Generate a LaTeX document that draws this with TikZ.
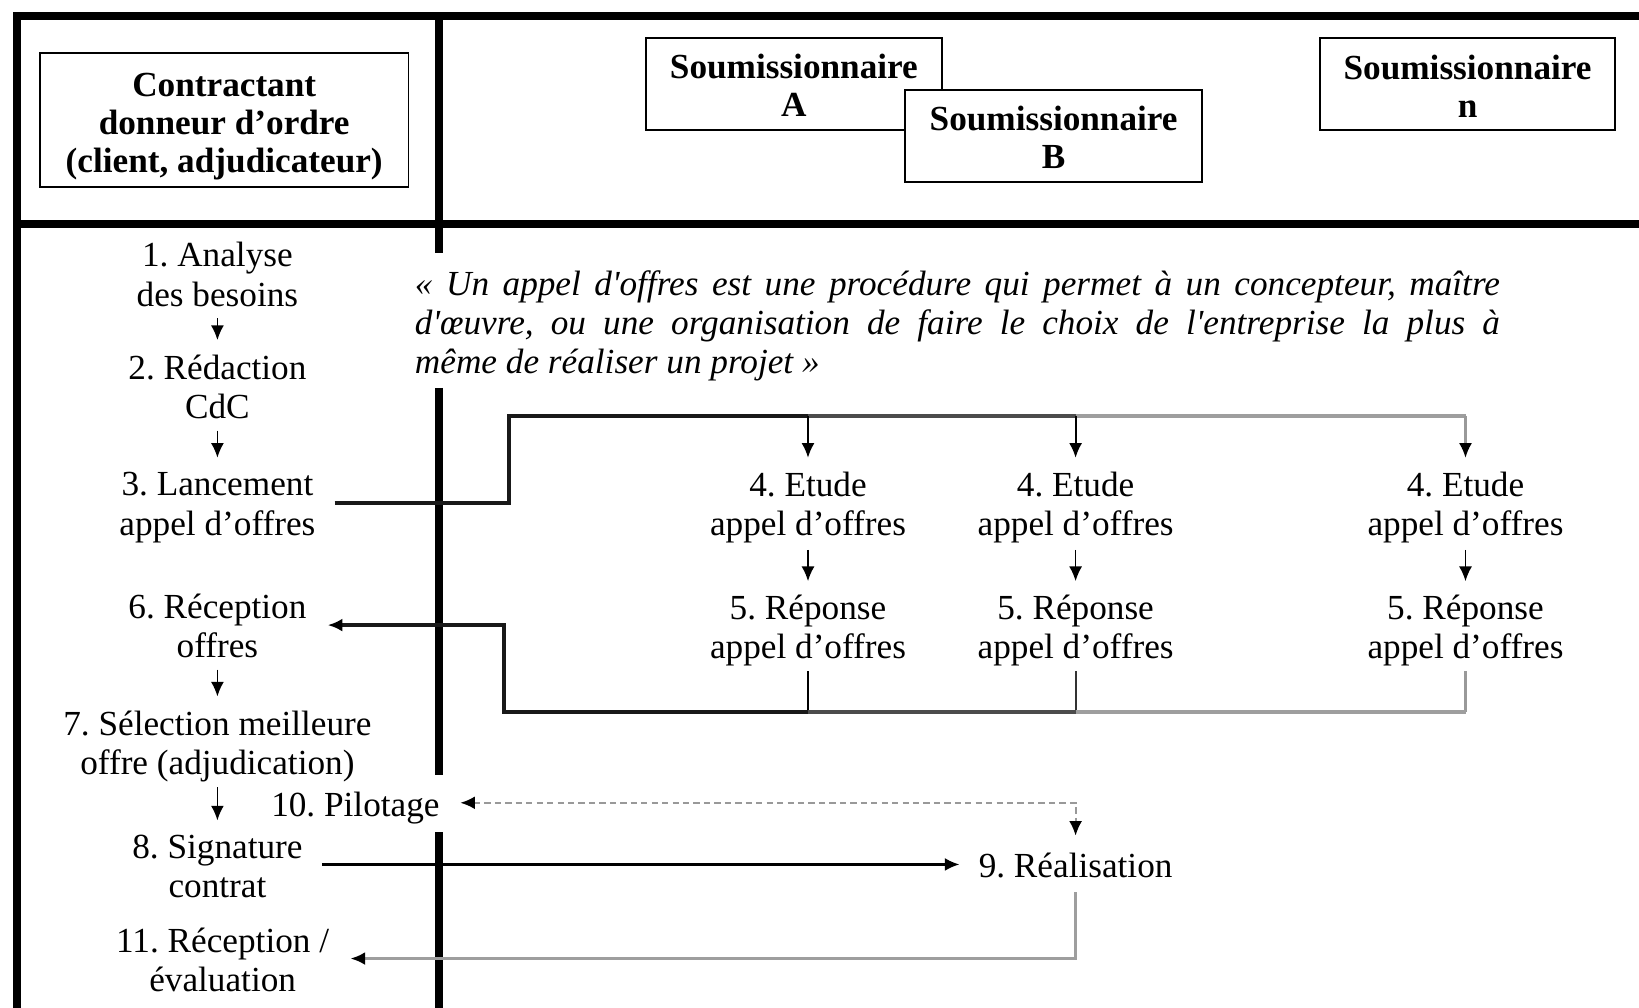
\documentclass[tikz,border=0pt]{standalone}
\usepackage{fontspec}
\setmainfont{Liberation Serif}
\usetikzlibrary{arrows.meta}
\frenchspacing
\tikzset{
  blk/.tip={Latex[length=7pt,width=6.2pt,color=black]},
  txt/.style={inner sep=0pt, align=center, font=\fontsize{16.85pt}{18.8pt}\selectfont\frenchspacing,
    execute at begin node=\strut, execute at end node=\strut},
  hdrbox/.style={draw, line width=0.9pt, fill=white, inner sep=0pt},
  hdrtxt/.style={inner sep=0pt, align=center, font=\fontsize{16.85pt}{18.3pt}\selectfont\bfseries},
  framel/.style={line width=4pt},
  divl/.style={line width=3.5pt},
  dk/.style={draw=black!90, line width=1.8pt},
  md/.style={draw=black!70, line width=1.8pt},
  lt/.style={draw=black!38, line width=1.8pt},
  dropd/.style={draw=black, line width=1pt, -blk, shorten >=6.5pt},
  dropl/.style={draw=black!40, line width=1pt, -blk, shorten >=6.5pt},
  sm/.style={draw=black, line width=0.8pt, -blk, shorten <=0pt, shorten >=6.8pt},
  dsh/.style={draw=black!40, line width=1pt, dash pattern=on 3pt off 2pt},
}
\begin{document}
\begin{tikzpicture}[x=0.5pt,y=-0.5pt]
\useasboundingbox (0,0) rectangle (1568,964);
% frame
\draw[framel] (16,964) -- (16,15) -- (1568,15);
\draw[framel] (16,214) -- (1568,214);
\draw[divl] (420,15) -- (420,242);
\draw[divl] (420,371) -- (420,741);
\draw[divl] (420,796) -- (420,964);
% header boxes
\node[hdrbox, minimum width=176.25pt, minimum height=64.25pt] (client) at (214.5,115) {};
\node[hdrtxt] (clientt) at (214.5,121) {Contractant\\donneur d’ordre\\(client, adjudicateur)};
\node[hdrbox, minimum width=141.5pt, minimum height=44.25pt] (sa) at (759.5,80.5) {};
\node[hdrtxt] (sat) at (759.5,81.5) {Soumissionnaire\\A};
\node[hdrbox, minimum width=142pt, minimum height=44pt] (sb) at (1008,130) {};
\node[hdrtxt] (sbt) at (1008,131.5) {Soumissionnaire\\B};
\node[hdrbox, minimum width=141pt, minimum height=44.25pt] (sn) at (1404,80.5) {};
\node[hdrtxt] (snt) at (1404,82.5) {Soumissionnaire\\n};
% quote
\node[inner sep=0pt, align=left, font=\fontsize{16.85pt}{18.6pt}\selectfont\itshape] (quote) at (916,312)
 {\makebox[519pt][s]{« Un appel d\textquotesingle offres est une procédure qui permet à un concepteur, maître}\\
  \makebox[519pt][s]{d\textquotesingle œuvre, ou une organisation de faire le choix de l\textquotesingle entreprise la plus à}\\
  \makebox[519pt][l]{même de réaliser un projet »}};
% client column
\node[txt] (n1) at (208,268) {1. Analyse\\des besoins};
\node[txt] (n2) at (208,375.5) {2. Rédaction\\CdC};
\node[txt] (n3) at (208,487.5) {3. Lancement\\appel d’offres};
\node[txt] (n6) at (208,604) {6. Réception\\offres};
\node[txt] (n7) at (208,716.5) {7. Sélection meilleure\\offre (adjudication)};
\node[txt] (n10) at (340,773.5) {10. Pilotage};
\node[txt] (n8) at (208,834.5) {8. Signature\\contrat};
\node[txt] (n11) at (213,923.5) {11. Réception /\\évaluation};
% bidders
\node[txt] (e1) at (773,487.5) {4. Etude\\appel d’offres};
\node[txt] (e2) at (1029,487.5) {4. Etude\\appel d’offres};
\node[txt] (e3) at (1402,487.5) {4. Etude\\appel d’offres};
\node[txt] (r1) at (773,605.5) {5. Réponse\\appel d’offres};
\node[txt] (r2) at (1029,605.5) {5. Réponse\\appel d’offres};
\node[txt] (r3) at (1402,605.5) {5. Réponse\\appel d’offres};
\node[txt] (n9) at (1029,831.5) {9. Réalisation};
% bend points
\coordinate (l3) at (487,481);
\coordinate (dist) at (487,398);
\coordinate (coll) at (482,681);
\coordinate (ret6) at (482,598);
\coordinate (pc) at (1029,768);
\coordinate (rc) at (1029,917);
\coordinate (sigy) at (600,827);
% left flow
\draw[sm] (n1) -- (n2);
\draw[sm] (n2) -- (n3);
\draw[sm] (n6) -- (n7);
\draw[sm] (n7) -- (n8);
% distribution
\draw[dk, shorten <=9pt] (l3 -| n3.east) -- (l3) -- (dist) -- (dist -| e1);
\draw[md] (dist -| e1) -- (dist -| e2);
\draw[lt] (dist -| e2) -- (dist -| e3);
\draw[dropd] (dist -| e1) -- (e1.north);
\draw[dropd] (dist -| e2) -- (e2.north);
\draw[dropl] (dist -| e3) -- (e3.north);
\draw[sm, shorten <=1pt, shorten >=6.5pt] (e1) -- (r1);
\draw[sm, shorten <=1pt, shorten >=6.5pt] (e2) -- (r2);
\draw[sm, shorten <=1pt, shorten >=6.5pt] (e3) -- (r3);
% collection
\draw[draw=black, line width=1pt] (r1.south) -- (r1.south |- coll);
\draw[draw=black!80, line width=1pt] (r2.south) -- (r2.south |- coll);
\draw[draw=black!40, line width=1pt] (r3.south) -- (r3.south |- coll);
\draw[lt] (r3.south |- coll) -- (r2.south |- coll);
\draw[md] (r2.south |- coll) -- (r1.south |- coll);
\draw[dk, line width=2.1pt, -blk, shorten >=10pt] (r1.south |- coll) -- (coll) -- (ret6) -- (ret6 -| n6.east);
% contract
\draw[draw=black, line width=1.1pt, -blk, shorten <=9pt, shorten >=9pt] (sigy -| n8.east) -- (sigy -| n9.west);
% piloting
\draw[dsh, blk-blk, shorten <=9.75pt, shorten >=6.4pt] (pc -| n10.east) -- (pc) -- (n9.north);
% reception
\draw[lt, -blk, shorten <=1.4pt, shorten >=10pt] (n9.south) -- (rc) -- (rc -| n11.east);
\end{tikzpicture}
\end{document}
